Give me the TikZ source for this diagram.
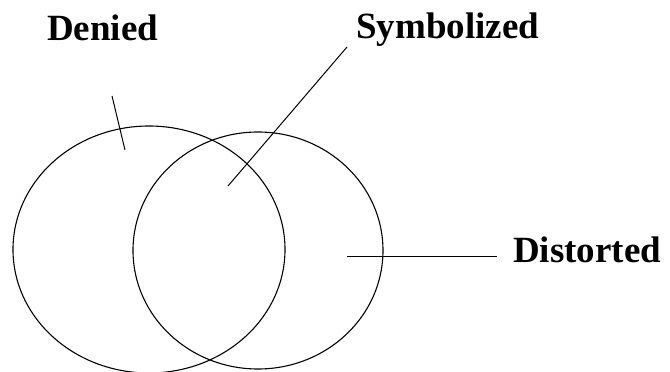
\documentclass[tikz,border=0pt]{standalone}
\usepackage{fontspec}
\setmainfont{Liberation Serif}
\begin{document}
\begin{tikzpicture}[x=1pt,y=-1pt,
  ring/.style={draw=black,line width=1.1pt},
  leader/.style={draw=black,line width=1pt},
  lbl/.style={font=\fontsize{37}{40}\selectfont\bfseries,inner sep=0pt,anchor=base west}]
\useasboundingbox (0,0) rectangle (670,372);
% circles
\draw[ring] (149,249.5) ellipse [x radius=136, y radius=123.5];
\draw[ring] (258,250.5) ellipse [x radius=125, y radius=118.5];
% labels
\node[lbl] (denied) at (47,41) {Denied};
\node[lbl] (symb) at (356,38) {Symbolized};
\node[lbl] (dist) at (513,262) {Distorted};
% leader lines
\coordinate (d1) at (112,96);
\coordinate (d2) at (125,150);
\coordinate (s1) at (347,47);
\coordinate (s2) at (228,186);
\coordinate (t1) at (347,256);
\coordinate (t2) at (497,256);
\draw[leader] (d1) -- (d2);
\draw[leader] (s1) -- (s2);
\draw[leader] (t1) -- (t2);
\end{tikzpicture}
\end{document}
